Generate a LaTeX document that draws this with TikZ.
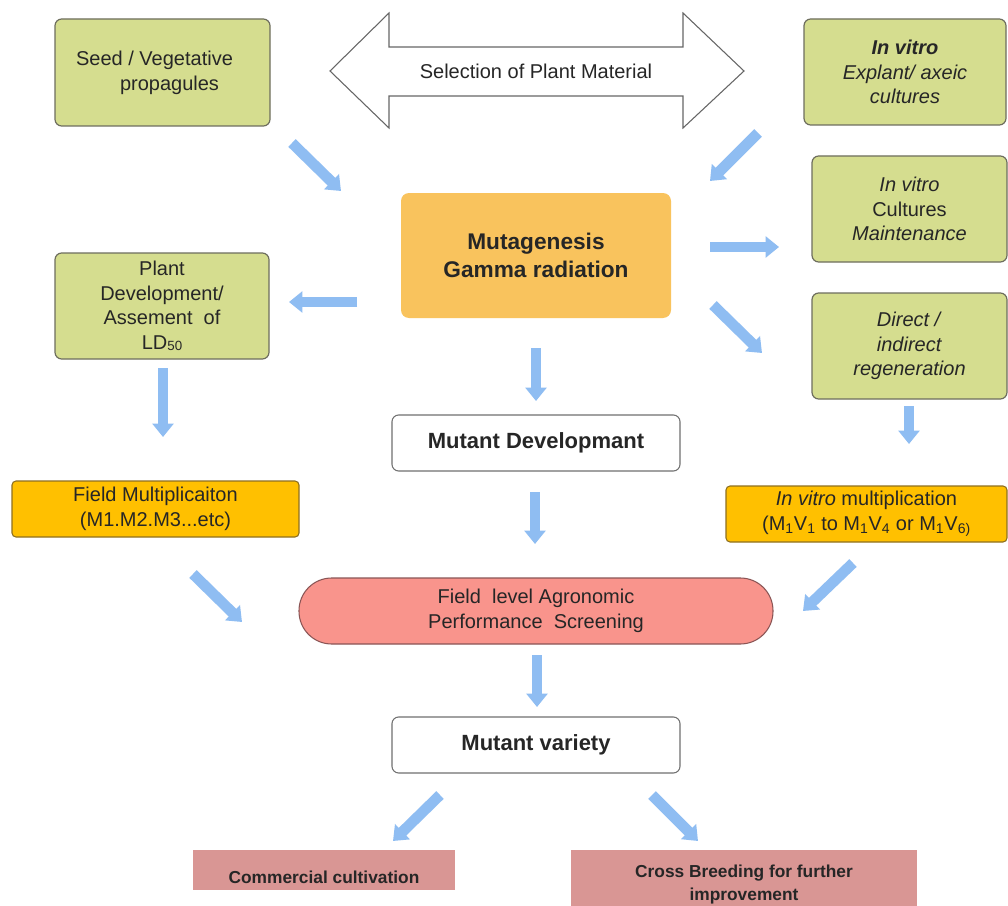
\documentclass[tikz,border=0pt]{standalone}
\usepackage{fontspec}
\setmainfont{Liberation Sans}
\usetikzlibrary{arrows.meta}
\definecolor{gfill}{HTML}{D5DD8F}
\definecolor{gline}{HTML}{6E6E5E}
\definecolor{ofill}{HTML}{F9C35D}
\definecolor{yfill}{HTML}{FFC000}
\definecolor{yline}{HTML}{8E7020}
\definecolor{sfill}{HTML}{F9948C}
\definecolor{sline}{HTML}{8A5555}
\definecolor{pfill}{HTML}{D99694}
\definecolor{wline}{HTML}{707070}
\definecolor{ablue}{HTML}{8FBDF2}
\definecolor{txt}{HTML}{262626}
\newdimen\px \px=0.75pt
\begin{document}
\begin{tikzpicture}[x=0.75pt,y=-0.75pt,
  base/.style={rectangle, inner sep=0pt, align=center, text=txt,
    font=\fontsize{15pt}{18.5pt}\selectfont},
  greenbox/.style={base, rounded corners=5pt, draw=gline, line width=0.9pt, fill=gfill},
  goldbox/.style={base, rounded corners=3pt, draw=yline, line width=0.8pt, fill=yfill},
  whitebox/.style={base, rounded corners=5pt, draw=wline, line width=0.8pt, fill=white,
    font=\bfseries\fontsize{16.5pt}{19pt}\selectfont},
  pinkbox/.style={base, fill=pfill},
  btxt/.style={base, font=\bfseries\fontsize{13pt}{17pt}\selectfont},
  barrow/.style={draw=ablue, line width=8pt, -{Triangle[length=10pt,width=15.5pt]}},
]
\fill[white] (0,0) rectangle (1008,906);
\useasboundingbox (0,0) rectangle (1008,906);

% selection double arrow
\draw[draw=gray!80!black, line width=0.8pt, fill=white]
  (330,71) -- (389,13) -- (389,47) -- (683,47) -- (683,13) -- (744,71)
  -- (683,128) -- (683,96) -- (389,96) -- (389,128) -- cycle;
\node[base] (sel) at (536,71) {Selection of Plant Material};

% boxes
\node[greenbox, minimum width=215\px, minimum height=107\px] (seed) at (162.5,72.5)
  {Seed / Vegetative\hspace*{0.8em}\\ \hspace*{0.7em}propagules};
\node[greenbox, minimum width=202\px, minimum height=106\px] (invitro) at (905,72)
  {\textbf{\textit{In vitro}}\\ \textit{Explant/ axeic}\\ \textit{cultures}};
\node[greenbox, minimum width=195\px, minimum height=106\px] (maint) at (909.5,209)
  {\textit{In vitro}\\ Cultures\\ \textit{Maintenance}};
\node[greenbox, minimum width=195\px, minimum height=106\px] (regen) at (909.5,346)
  {\textit{Direct /}\\ \textit{indirect}\\ \textit{regeneration}};
\node[base, rounded corners=6pt, fill=ofill, minimum width=270\px, minimum height=125\px,
  font=\bfseries\fontsize{17pt}{21pt}\selectfont] (mut) at (536,255.5)
  {Mutagenesis\\ Gamma radiation};
\node[greenbox, minimum width=214\px, minimum height=106\px] (plantdev) at (162,306)
  {Plant\\ Development/\\ Assement~ of\\ LD{\fontsize{10pt}{10pt}\selectfont\raisebox{-0.2ex}{50}}};
\node[whitebox, minimum width=288\px, minimum height=56\px] (mdev) at (536,443)
  {Mutant Developmant};
\node[goldbox, minimum width=287\px, minimum height=56\px] (fieldmult) at (155.5,509)
  {Field Multiplicaiton\\ (M1.M2.M3...etc)};
\node[goldbox, minimum width=281\px, minimum height=56\px] (ivmult) at (866.5,514)
  {\textit{In vitro} multiplication\\ (M\textsubscript{1}V\textsubscript{1} to M\textsubscript{1}V\textsubscript{4} or M\textsubscript{1}V\textsubscript{6)}};
\node[base, draw=sline, line width=0.8pt, fill=sfill, rounded corners=24.5pt,
  minimum width=474\px, minimum height=66\px] (screen) at (536,611)
  {Field~ level Agronomic\\ Performance~ Screening};
\node[whitebox, minimum width=288\px, minimum height=56\px] (variety) at (536,745)
  {Mutant variety};
\node[pinkbox, minimum width=262\px, minimum height=40\px] (comm) at (324,870) {};
\node[btxt] (commtxt) at (324,877) {Commercial cultivation};
\node[pinkbox, minimum width=346\px, minimum height=56\px] (cross) at (744,878) {};
\node[btxt] (crosstxt) at (744,884.5) {Cross Breeding for further\\ improvement};

% arrow end points
\coordinate (a1s) at (292,143);  \coordinate (a1e) at (341,191);
\coordinate (a2s) at (758,133);  \coordinate (a2e) at (710,181);
\coordinate (a3s) at (710,247);  \coordinate (a3e) at (779,247);
\coordinate (a4s) at (713,305);  \coordinate (a4e) at (762,353);
\coordinate (a5s) at (357,302);  \coordinate (a5e) at (289,302);
\coordinate (a6s) at (536,348);  \coordinate (a6e) at (536,401);
\coordinate (a7s) at (163,368);  \coordinate (a7e) at (163,437);
\coordinate (a8s) at (909,406);  \coordinate (a8e) at (909,444);
\coordinate (a9s) at (535,492);  \coordinate (a9e) at (535,544);
\coordinate (a10s) at (193,574); \coordinate (a10e) at (242,622);
\coordinate (a11s) at (853,563); \coordinate (a11e) at (803,611);
\coordinate (a12s) at (537,655); \coordinate (a12e) at (537,707);
\coordinate (a13s) at (440,795); \coordinate (a13e) at (393,841);
\coordinate (a14s) at (652,795); \coordinate (a14e) at (698,841);

\foreach \i in {1,...,14} {\draw[barrow] (a\i s) -- (a\i e);}
\end{tikzpicture}
\end{document}
